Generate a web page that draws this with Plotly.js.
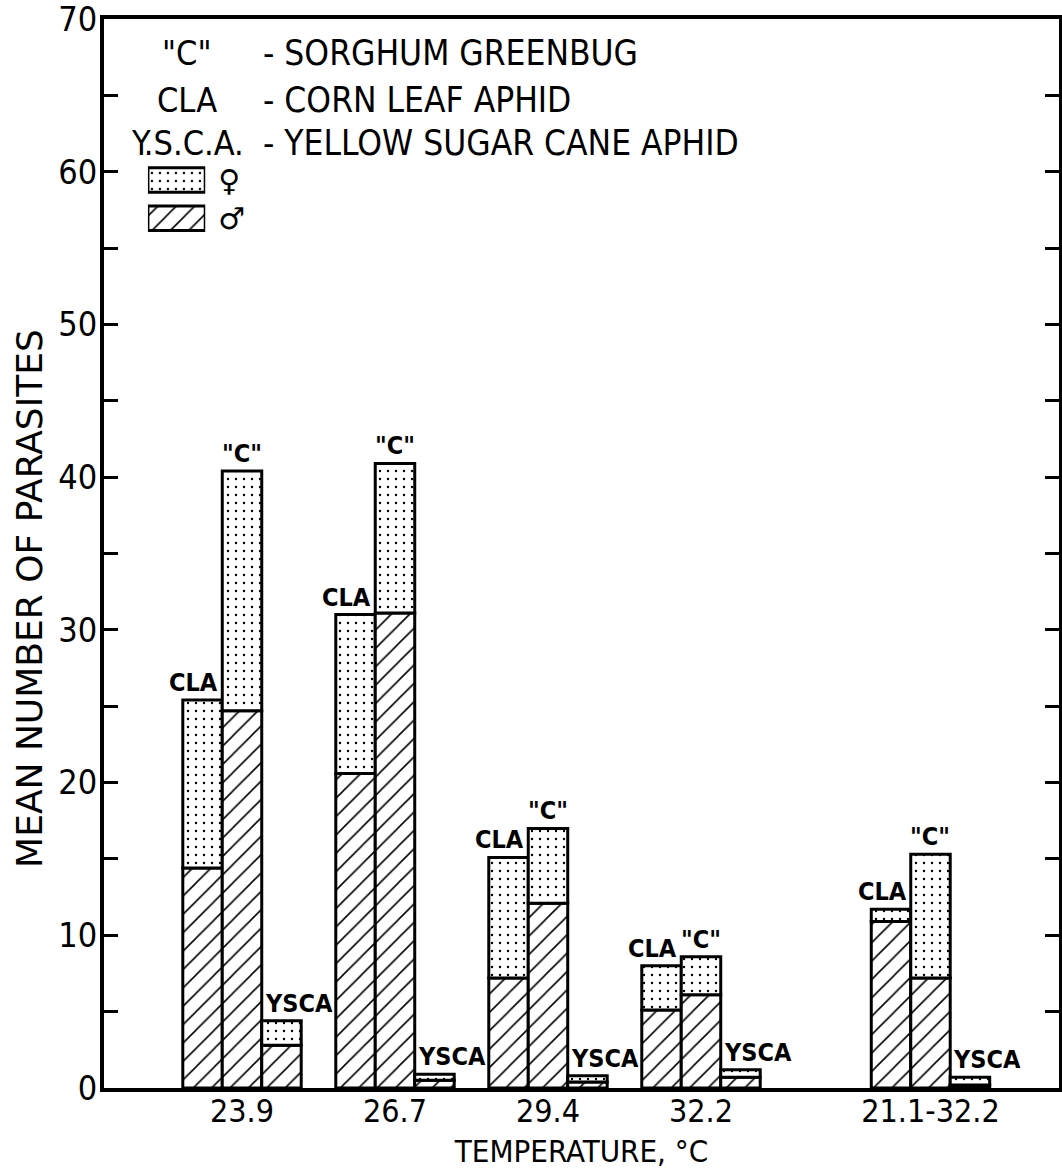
<!DOCTYPE html>
<html>
<head>
<meta charset="utf-8">
<script src="https://cdn.plot.ly/plotly-3.0.1.min.js"></script>
<style>
  html, body { margin: 0; padding: 0; background: #ffffff; }
  #chart { width: 1062px; height: 1170px; }
</style>
</head>
<body>
<div id="chart"></div>
<script>
// ---------------- DATA ----------------
const categories = ['23.9', '26.7', '29.4', '32.2', '21.1-32.2'];
const speciesLabels = ['CLA', '"C"', 'YSCA'];

// males (hatched) and females (stippled) per temperature
const claMale    = [14.4, 20.6, 7.2, 5.1, 10.9];
const claFemale  = [11.0, 10.4, 7.9, 2.9, 0.8];
const cMale      = [24.7, 31.1, 12.1, 6.1, 7.2];
const cFemale    = [15.7, 9.8, 4.9, 2.5, 8.1];
const yscaMale   = [2.8, 0.5, 0.4, 0.7, 0.2];
const yscaFemale = [1.6, 0.4, 0.4, 0.5, 0.5];

const yTickVals = [0, 5, 10, 15, 20, 25, 30, 35, 40, 45, 50, 55, 60, 65, 70];
const yTickText = ['0', '', '10', '', '20', '', '30', '', '40', '', '50', '', '60', '', '70'];

const keyCodes = ['"C"', 'CLA', 'Y.S.C.A.'];
const keyNames = ['- SORGHUM GREENBUG', '- CORN LEAF APHID', '- YELLOW SUGAR CANE APHID'];
const sexLabels = ['\u2640', '\u2642'];

const xTitle = 'TEMPERATURE, °C';
const yTitle = 'MEAN NUMBER OF PARASITES';

// ---------------- LAYOUT CONSTANTS ----------------
const groupSlot = [0, 1, 2, 3, 4.5];   // horizontal slot of each temperature group
const barW = 0.258;
const FONT = 'DejaVu Sans Condensed, DejaVu Sans, sans-serif';

const speciesData = [
  { label: speciesLabels[0], male: claMale,  female: claFemale,  k: 0 },
  { label: speciesLabels[1], male: cMale,    female: cFemale,    k: 1 },
  { label: speciesLabels[2], male: yscaMale, female: yscaFemale, k: 2 }
];

const outline = { color: '#000000', width: 3 };
const hatch = { shape: '/', fgcolor: '#000000', bgcolor: '#ffffff', size: 13, solidity: 0.12 };
const dots  = { shape: '.', fgcolor: '#000000', bgcolor: '#ffffff', size: 8, solidity: 0.07 };

const traces = [];
const annotations = [];

speciesData.forEach(s => {
  const off = (s.k - 1.5) * barW;
  traces.push({
    type: 'bar', x: groupSlot, y: s.male, offset: off, width: barW,
    marker: { color: '#ffffff', line: outline, pattern: hatch },
    hoverinfo: 'skip', showlegend: false
  });
  traces.push({
    type: 'bar', x: groupSlot, y: s.female, base: s.male, offset: off, width: barW,
    marker: { color: '#ffffff', line: outline, pattern: dots },
    hoverinfo: 'skip', showlegend: false
  });
  s.male.forEach((m, i) => {
    const top = m + s.female[i];
    const a = {
      xref: 'x', yref: 'y', y: top, yanchor: 'bottom', yshift: 1,
      text: '<b>' + s.label + '</b>', showarrow: false,
      font: { family: FONT, size: 25, color: '#000000' }
    };
    if (s.k === 0) { a.x = groupSlot[i] + off + barW / 2; a.xanchor = 'center'; a.xshift = -9; }
    else if (s.k === 1) { a.x = groupSlot[i] + off + barW / 2; a.xanchor = 'center'; }
    else { a.x = groupSlot[i] + off; a.xanchor = 'left'; a.xshift = 1; }
    annotations.push(a);
  });
});

// legend swatches drawn on a small secondary axis pair
traces.push({
  type: 'bar', orientation: 'h', y: [sexLabels[0]], x: [1], width: 0.64,
  xaxis: 'x2', yaxis: 'y2',
  marker: { color: '#ffffff', line: outline, pattern: dots },
  hoverinfo: 'skip', showlegend: false
});
traces.push({
  type: 'bar', orientation: 'h', y: [sexLabels[1]], x: [1], width: 0.64,
  xaxis: 'x2', yaxis: 'y2',
  marker: { color: '#ffffff', line: outline, pattern: hatch },
  hoverinfo: 'skip', showlegend: false
});

// key text
const keyRowsY = [0.9682, 0.9242, 0.884];
keyCodes.forEach((c, i) => {
  annotations.push({
    xref: 'paper', yref: 'paper', x: 0.087, y: keyRowsY[i],
    xanchor: 'center', yanchor: 'middle', text: c, showarrow: false,
    font: { family: FONT, size: 34, color: '#000000' }
  });
  annotations.push({
    xref: 'paper', yref: 'paper', x: 0.164, y: keyRowsY[i],
    xanchor: 'left', yanchor: 'middle', text: keyNames[i], showarrow: false,
    font: { family: FONT, size: 35, color: '#000000' }
  });
});

// y axis title
annotations.push({
  xref: 'paper', yref: 'paper', x: -0.078, y: 0.458,
  xanchor: 'center', yanchor: 'middle', textangle: -90,
  text: yTitle, showarrow: false,
  font: { family: 'DejaVu Sans, sans-serif', size: 36, color: '#000000' }
});

const layout = {
  width: 1062, height: 1170,
  margin: { l: 104, r: 3, t: 19, b: 82 },
  paper_bgcolor: '#ffffff', plot_bgcolor: '#ffffff',
  barmode: 'overlay',
  showlegend: false,
  xaxis: {
    range: [-0.902, 5.34],
    tickvals: groupSlot, ticktext: categories,
    ticks: '', showgrid: false, zeroline: false,
    showline: true, linecolor: '#000000', linewidth: 4, mirror: true,
    ticklabelstandoff: -8,
    tickfont: { family: FONT, size: 32, color: '#000000' },
    title: { text: xTitle, font: { family: FONT, size: 31, color: '#000000' }, standoff: 12 }
  },
  yaxis: {
    range: [0, 70],
    tickvals: yTickVals, ticktext: yTickText,
    ticks: 'inside', ticklen: 14, tickwidth: 3, tickcolor: '#000000',
    showgrid: false, zeroline: false,
    showline: true, linecolor: '#000000', linewidth: 4, mirror: 'ticks',
    ticklabeloverflow: 'allow',
    ticklabelstandoff: -4,
    tickfont: { family: FONT, size: 34, color: '#000000' }
  },
  xaxis2: {
    domain: [0.046, 0.106], range: [0, 1], anchor: 'y2',
    visible: false, fixedrange: true
  },
  yaxis2: {
    domain: [0.7956, 0.8672], anchor: 'x2', type: 'category',
    categoryorder: 'array', categoryarray: [sexLabels[1], sexLabels[0]],
    side: 'right', ticks: '', showline: false, showgrid: false, zeroline: false,
    ticklabelstandoff: 12,
    tickfont: { family: 'DejaVu Sans, sans-serif', size: 30, color: '#000000' }
  },
  annotations: annotations
};

Plotly.newPlot('chart', traces, layout, { displayModeBar: false, staticPlot: true });
</script>
</body>
</html>
